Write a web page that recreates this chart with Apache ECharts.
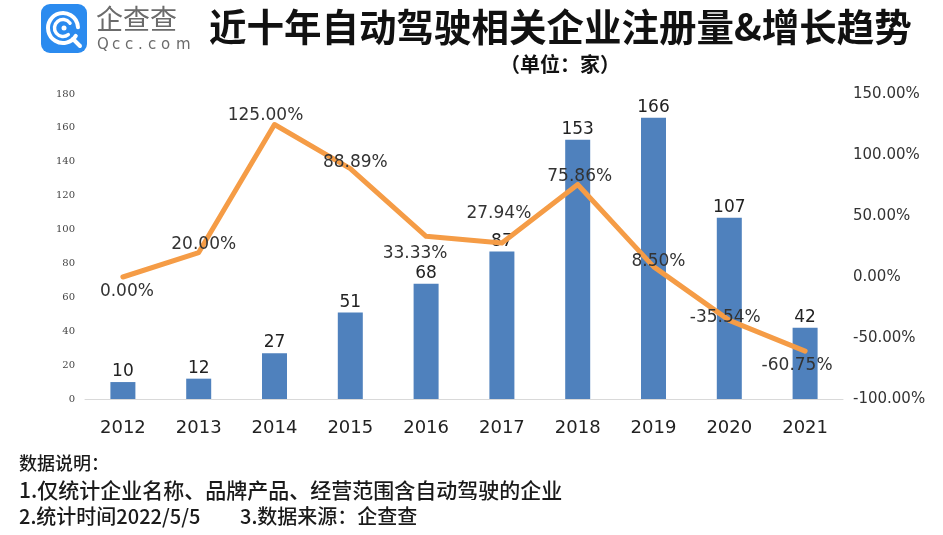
<!DOCTYPE html>
<html>
<head>
<meta charset="utf-8">
<script src="https://cdn.jsdelivr.net/npm/echarts@6/dist/echarts.min.js"></script>
<style>
html,body{margin:0;padding:0;background:#fff;}
#c{width:943px;height:535px;}
</style>
</head>
<body>
<div id="c"></div>
<script>
// ---- data ----
const years = ['2012','2013','2014','2015','2016','2017','2018','2019','2020','2021'];
const registrations = [10, 12, 27, 51, 68, 87, 153, 166, 107, 42];
const growthPct = [0.00, 20.00, 125.00, 88.89, 33.33, 27.94, 75.86, 8.50, -35.54, -60.75];
const leftTicks = [0, 20, 40, 60, 80, 100, 120, 140, 160, 180];
const rightTicks = [-100, -50, 0, 50, 100, 150];

// ---- label placement (style) ----
const growthLabelOffsets = [[4,15],[5,-8],[-9,-9],[5,-6],[-11,17],[-3,-29],[2,-8],[5,-5],[-4,-3],[-8,14]];

const chart = echarts.init(document.getElementById('c'), null, {renderer:'canvas'});

const qccChars = 'Qcc.com'.split('');
const qccX = [97, 112, 125, 138, 148, 161, 176];

const graphics = [
  // logo box
  {type:'rect', shape:{x:41, y:4, width:46, height:49, r:9}, style:{fill:'#2B8BEF'}},
  {type:'arc', shape:{cx:63, cy:28, r:15, startAngle:0.55, endAngle:Math.PI*2-0.05}, style:{stroke:'#fff', lineWidth:4, fill:null, lineCap:'round'}},
  {type:'arc', shape:{cx:63, cy:28, r:8.5, startAngle:0.9, endAngle:Math.PI*2-0.6}, style:{stroke:'#fff', lineWidth:3.5, fill:null, lineCap:'round'}},
  {type:'circle', shape:{cx:64, cy:28, r:2.5}, style:{fill:'#fff'}},
  {type:'line', shape:{x1:73, y1:39, x2:80, y2:46}, style:{stroke:'#fff', lineWidth:4, lineCap:'round'}},
  {type:'text', left:96, top:5, style:{text:'企查查', font:'normal 27px "Noto Sans CJK SC"', fill:'#6b6b6b'}},
  // title
  {type:'text', left:209, top:8, style:{text:'近十年自动驾驶相关企业注册量&增长趋势', font:'bold 37.5px "Noto Sans CJK SC"', fill:'#111'}},
  {type:'text', left:500, top:54, style:{text:'（单位：家）', font:'bold 20px "Noto Sans CJK SC"', fill:'#111'}},
  // footnotes
  {type:'text', left:19, top:454, style:{text:'数据说明：', font:'500 18px "Noto Sans CJK SC"', fill:'#1a1a1a'}},
  {type:'text', left:19, top:480, style:{text:'1.仅统计企业名称、品牌产品、经营范围含自动驾驶的企业', font:'500 21px "Noto Sans CJK SC"', fill:'#1a1a1a'}},
  {type:'text', left:19, top:506, style:{text:'2.统计时间2022/5/5', font:'500 20px "Noto Sans CJK SC"', fill:'#1a1a1a'}},
  {type:'text', left:240, top:506, style:{text:'3.数据来源：企查查', font:'500 20px "Noto Sans CJK SC"', fill:'#1a1a1a'}}
];
qccChars.forEach((ch, i) => {
  graphics.push({type:'text', left:qccX[i], top:38, style:{text:ch, font:'normal 15px "DejaVu Sans"', fill:'#6b6b6b'}});
});

const option = {
  backgroundColor:'#ffffff',
  animation:false,
  graphic: graphics,
  grid:{left:85, right:100, top:94, bottom:136},
  xAxis:{
    type:'category',
    data: years,
    axisLine:{lineStyle:{color:'#d9d9d9', width:1}},
    axisTick:{show:false},
    axisLabel:{color:'#222', fontSize:18, fontFamily:'DejaVu Sans', margin:20}
  },
  yAxis:[
    {
      type:'value', min:leftTicks[0], max:leftTicks[leftTicks.length-1], interval:20,
      splitLine:{show:false}, axisLine:{show:false}, axisTick:{show:false},
      axisLabel:{color:'#444', fontSize:10, fontFamily:'DejaVu Serif', margin:10}
    },
    {
      type:'value', min:rightTicks[0], max:rightTicks[rightTicks.length-1], interval:50,
      splitLine:{show:false}, axisLine:{show:false}, axisTick:{show:false},
      axisLabel:{color:'#333', fontSize:15, fontFamily:'DejaVu Sans', margin:10,
        formatter: v => v.toFixed(2) + '%'}
    }
  ],
  series:[
    {
      type:'bar', yAxisIndex:0, data: registrations, barWidth:25,
      itemStyle:{color:'#4F81BD'},
      label:{show:true, position:'top', distance:2, color:'#222', fontSize:17, fontFamily:'DejaVu Sans'},
      z:2
    },
    {
      type:'line', yAxisIndex:1, smooth:false,
      data: growthPct.map((v, i) => ({value:v, label:{offset:growthLabelOffsets[i]}})),
      symbol:'circle', symbolSize:1, showSymbol:true,
      itemStyle:{color:'#F59C46'},
      lineStyle:{color:'#F59C46', width:5, join:'round', cap:'round'},
      label:{show:true, position:'inside', color:'#333', fontSize:17, fontFamily:'DejaVu Sans',
        formatter: p => p.value.toFixed(2) + '%'},
      z:3
    }
  ]
};
chart.setOption(option);
</script>
</body>
</html>
